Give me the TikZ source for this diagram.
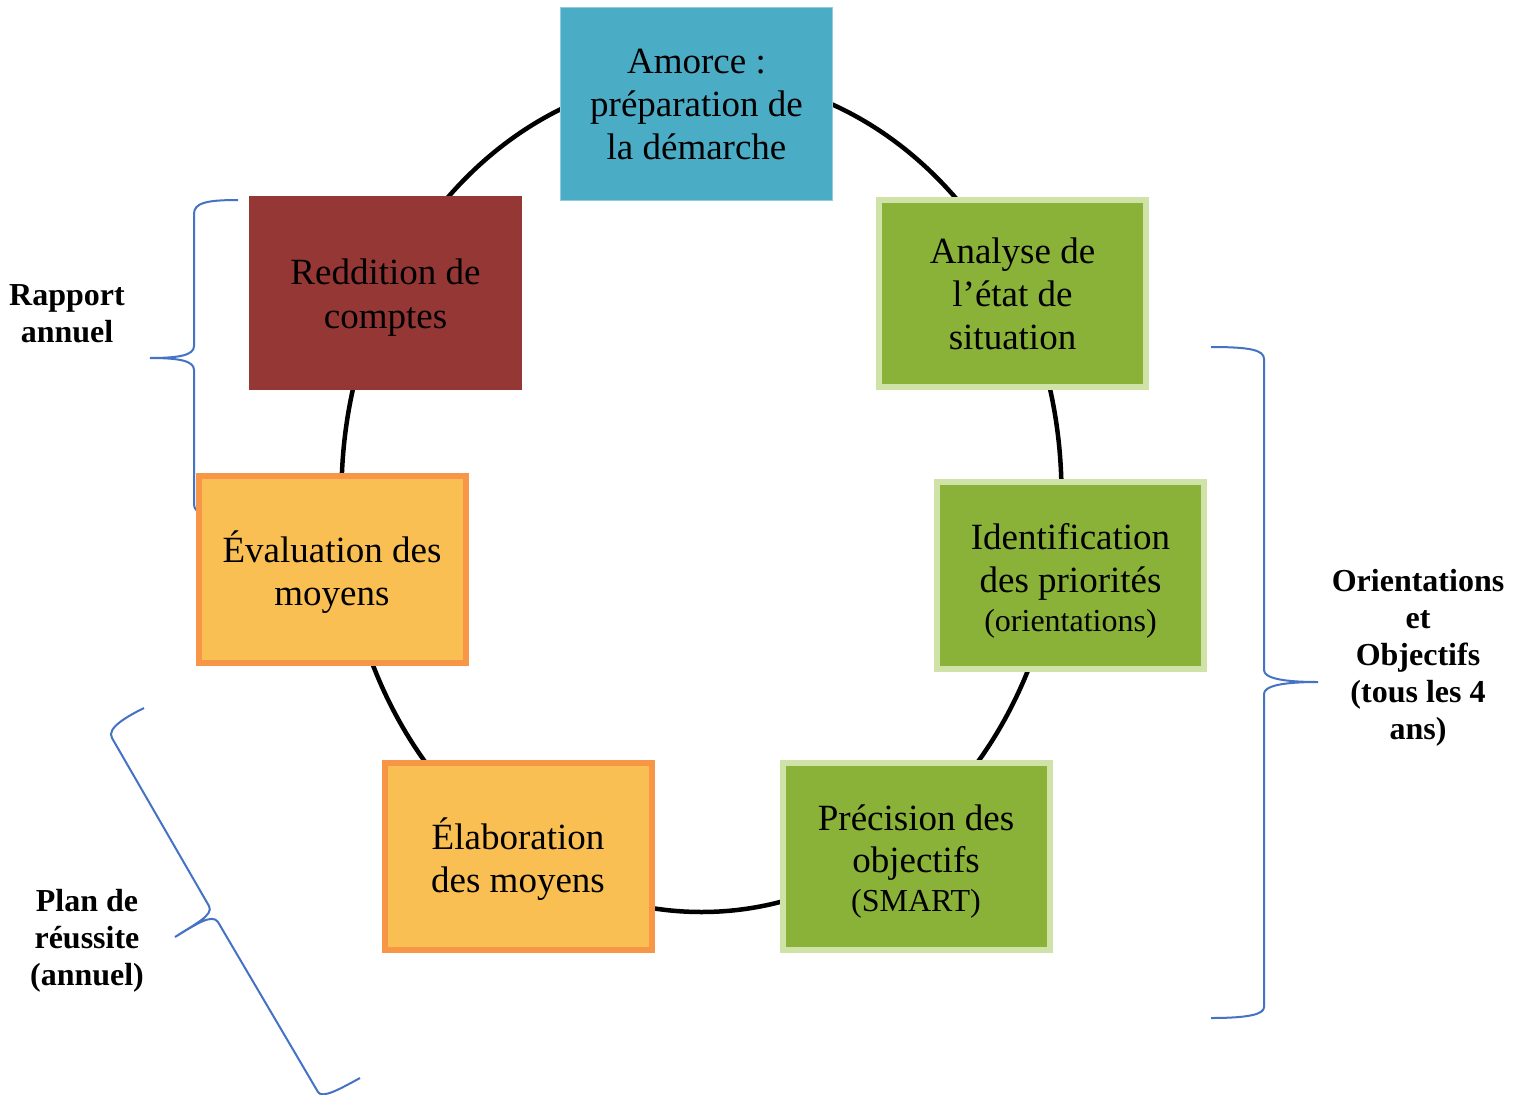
\documentclass[tikz,border=0pt]{standalone}
\usepackage{fontspec}
\setmainfont{Liberation Serif}
\definecolor{bluefill}{RGB}{75,172,198}
\definecolor{blueedge}{RGB}{140,205,222}
\definecolor{redfill}{RGB}{149,55,53}
\definecolor{grfill}{RGB}{138,177,56}
\definecolor{grborder}{RGB}{207,226,168}
\definecolor{orfill}{RGB}{249,191,82}
\definecolor{orborder}{RGB}{247,150,70}
\definecolor{brblue}{RGB}{68,114,196}
\begin{document}
\begin{tikzpicture}[x=1pt,y=-1pt,
  boxtxt/.style={font=\fontsize{37}{43}\selectfont, align=center, text=black, inner sep=0pt},
  stepbox/.style={rectangle, minimum width=267pt, minimum height=187pt, line width=6pt, inner sep=0pt},
  greenbox/.style={stepbox, fill=grfill, draw=grborder},
  orangebox/.style={stepbox, fill=orfill, draw=orborder},
  plainbox/.style={rectangle, minimum width=272pt, minimum height=193pt, line width=1pt, inner sep=0pt},
  bracestyle/.style={draw=brblue, line width=2pt},
  lbl/.style={font=\bfseries\fontsize{32}{37}\selectfont, align=center}]
\useasboundingbox (0,0) rectangle (1524,1095);
\fill[white] (0,0) rectangle (1524,1095);
% cycle
\draw[line width=4.5pt] (701.5,494) ellipse [x radius=360pt, y radius=418pt];
% braces
\draw[bracestyle] (238,200) .. controls (206,200) and (194,203) .. (194,214) -- (194,346)
  .. controls (194,355) and (180,358) .. (150,358)
  .. controls (180,358) and (194,361) .. (194,370) -- (194,504)
  .. controls (194,514) and (206,517) .. (238,517);
\draw[bracestyle] (1211,347) .. controls (1250,347) and (1264,350) .. (1264,359) -- (1264,670)
  .. controls (1264,678) and (1282,682) .. (1318,682)
  .. controls (1282,682) and (1264,686) .. (1264,694) -- (1264,1007)
  .. controls (1264,1014) and (1250,1018) .. (1211,1018);
\draw[bracestyle] (144,708) .. controls (128,716) and (106,728) .. (112,738) -- (209,906)
  .. controls (214,915) and (195,924) .. (175,937)
  .. controls (195,925) and (212,913) .. (218,922) -- (318,1092)
  .. controls (322,1099) and (340,1089) .. (360,1078);
% boxes
\node[plainbox, fill=bluefill, draw=blueedge] (amorce) at (696.5,104) {};
\node[plainbox, fill=redfill, draw=redfill] (reddition) at (385.5,293) {};
\node[greenbox] (analyse) at (1012.5,293.5) {};
\node[greenbox] (ident) at (1070.5,575.5) {};
\node[greenbox] (precision) at (916,856) {};
\node[orangebox] (evaluation) at (332,569) {};
\node[orangebox] (elaboration) at (518,856) {};
% box texts
\node[boxtxt] (amorcetxt) at (amorce.center) {Amorce :\\préparation de\\la démarche};
\node[boxtxt] (redditiontxt) at ([yshift=-5pt]reddition.center) {Reddition de\\[1pt]comptes};
\node[boxtxt] (analysetxt) at ([yshift=-0.5pt]analyse.center) {Analyse de\\l’état de\\situation};
\node[boxtxt] (identtxt) at ([yshift=-5pt]ident.center) {Identification\\des priorités\\[-4pt]{\fontsize{32}{36}\selectfont (orientations)}};
\node[boxtxt] (precisiontxt) at ([yshift=-6pt]precision.center) {Précision des\\[-1pt]objectifs\\[-4pt]{\fontsize{32}{36}\selectfont (SMART)}};
\node[boxtxt] (evaluationtxt) at ([yshift=-3pt]evaluation.center) {Évaluation des\\moyens};
\node[boxtxt] (elaborationtxt) at ([yshift=-3pt]elaboration.center) {Élaboration\\des moyens};
% labels
\node[lbl] (rapport) at (67,314) {Rapport\\annuel};
\node[lbl] (orient) at (1418,658) {Orientations\\et\\Objectifs\\(tous les 4\\ans)};
\node[lbl] (plan) at (87,941) {Plan de\\réussite\\(annuel)};
\end{tikzpicture}
\end{document}
